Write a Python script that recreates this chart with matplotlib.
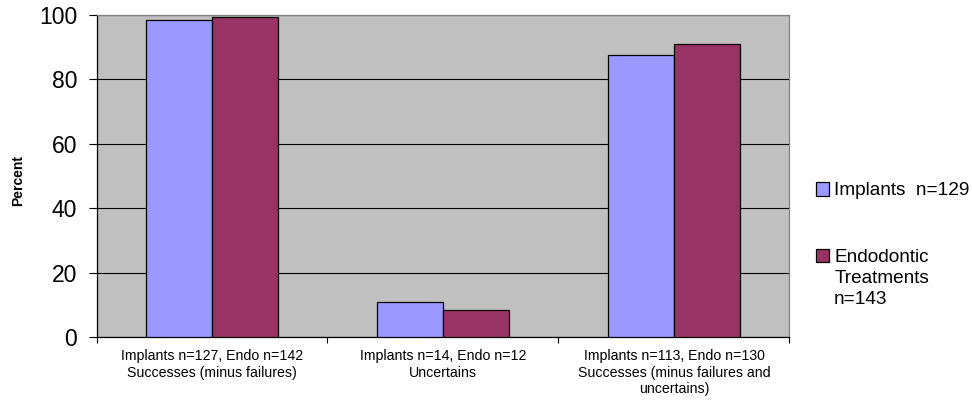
import numpy as np
import matplotlib.pyplot as plt

plt.rcParams['font.family'] = ['Liberation Sans', 'DejaVu Sans']

categories = ['Implants n=127, Endo n=142\nSuccesses (minus failures)',
              'Implants n=14, Endo n=12\nUncertains',
              'Implants n=113, Endo n=130\nSuccesses (minus failures and\nuncertains)']
implants = [98.4, 10.9, 87.6]
endo = [99.3, 8.4, 90.9]
series_labels = ['Implants  n=129', 'Endodontic\nTreatments\nn=143']
colors = ['#9999FF', '#993366']

fig = plt.figure(figsize=(9.72, 4.03), dpi=100)
ax = fig.add_axes([0.0993, 0.1638, 0.7129, 0.799])
ax.set_facecolor('#C0C0C0')

x = np.arange(len(categories))
w = 0.2857
ax.bar(x - w / 2, implants, w, color=colors[0], edgecolor='black', linewidth=0.9,
       label=series_labels[0], zorder=3)
ax.bar(x + w / 2, endo, w, color=colors[1], edgecolor='black', linewidth=0.9,
       label=series_labels[1], zorder=3)

ax.set_xlim(-0.5, len(categories) - 0.5)
ax.set_ylim(0, 100)
ax.set_yticks([0, 20, 40, 60, 80, 100])
ax.yaxis.grid(True, color='black', linewidth=0.8, zorder=1)
ax.set_axisbelow(True)
ax.tick_params(axis='y', labelsize=16.5, length=6, width=0.8, pad=8)

# category labels centred, small ticks at the group boundaries
ax.set_xticks(x)
ax.set_xticklabels(categories, fontsize=10.2, linespacing=1.2)
ax.tick_params(axis='x', which='major', length=0, pad=9)
ax.set_xticks(np.arange(len(categories) + 1) - 0.5, minor=True)
ax.tick_params(axis='x', which='minor', length=4, width=0.8)

ax.set_ylabel('Percent', fontsize=10, fontweight='bold')
ax.yaxis.set_label_coords(-0.103, 0.485)

ax.spines['left'].set_color('black')
ax.spines['bottom'].set_color('black')
ax.spines['top'].set_color('#808080')
ax.spines['right'].set_color('#808080')
for s in ax.spines.values():
    s.set_linewidth(0.9)

leg = fig.legend(loc='center left', bbox_to_anchor=(0.822, 0.392), frameon=False,
                 fontsize=13.7, handlelength=0.7, handleheight=0.7, handletextpad=0.25,
                 labelspacing=2.6)
for h in leg.legend_handles:
    h.set_linewidth(0.9)
for t in leg.get_texts():
    t.set_linespacing(1.3)
# keep the colour square level with the first line of a wrapped label
for col in leg._legend_handle_box.get_children():
    for item in col.get_children():
        item.align = 'top'

fig.savefig('out.png', dpi=100)
